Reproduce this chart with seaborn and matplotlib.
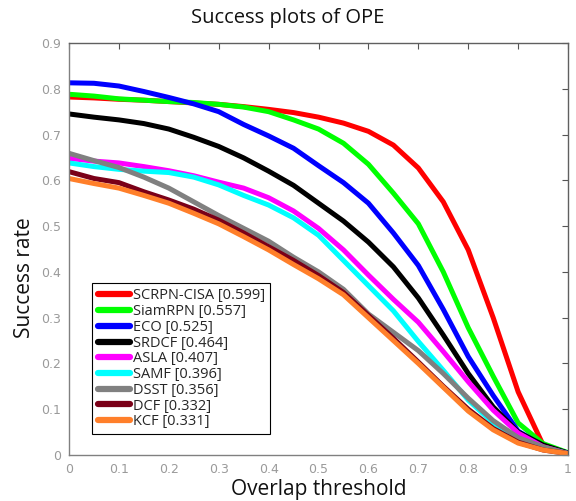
import numpy as np
import pandas as pd
import matplotlib
matplotlib.use("Agg")
import matplotlib.pyplot as plt
import seaborn as sns

# Overlap thresholds (21 points, 0 to 1)
thresholds = [round(0.05 * i, 2) for i in range(21)]

trackers = ["SCRPN-CISA", "SiamRPN", "ECO", "SRDCF", "ASLA", "SAMF", "DSST", "DCF", "KCF"]
auc_scores = [0.599, 0.557, 0.525, 0.464, 0.407, 0.396, 0.356, 0.332, 0.331]
colors = ["#ff0000", "#00ff00", "#0000ff", "#000000", "#ff00ff", "#00ffff",
          "#808080", "#7a0018", "#ff7f2a"]

scrpn_cisa = [0.782, 0.780, 0.777, 0.775, 0.772, 0.769, 0.766, 0.761, 0.755, 0.748, 0.738,
              0.725, 0.707, 0.677, 0.627, 0.553, 0.448, 0.300, 0.138, 0.022, 0.004]
siamrpn = [0.788, 0.784, 0.778, 0.775, 0.772, 0.770, 0.766, 0.760, 0.750, 0.732, 0.712,
           0.681, 0.635, 0.572, 0.505, 0.400, 0.278, 0.172, 0.070, 0.025, 0.005]
eco = [0.813, 0.812, 0.806, 0.794, 0.781, 0.767, 0.750, 0.722, 0.697, 0.670, 0.632,
       0.595, 0.550, 0.485, 0.414, 0.318, 0.215, 0.130, 0.052, 0.020, 0.004]
srdcf = [0.745, 0.738, 0.732, 0.724, 0.712, 0.694, 0.674, 0.649, 0.620, 0.589, 0.550,
         0.511, 0.465, 0.411, 0.343, 0.262, 0.178, 0.105, 0.050, 0.022, 0.004]
asla = [0.648, 0.642, 0.638, 0.630, 0.621, 0.610, 0.596, 0.583, 0.562, 0.533, 0.495,
        0.448, 0.393, 0.340, 0.290, 0.226, 0.160, 0.098, 0.048, 0.018, 0.003]
samf = [0.638, 0.630, 0.624, 0.620, 0.617, 0.607, 0.590, 0.567, 0.546, 0.518, 0.480,
        0.425, 0.370, 0.315, 0.248, 0.185, 0.120, 0.070, 0.036, 0.015, 0.003]
dsst = [0.659, 0.643, 0.628, 0.607, 0.583, 0.553, 0.523, 0.495, 0.467, 0.432, 0.400,
        0.362, 0.308, 0.268, 0.228, 0.178, 0.124, 0.075, 0.038, 0.018, 0.003]
dcf = [0.619, 0.604, 0.595, 0.575, 0.557, 0.537, 0.513, 0.485, 0.455, 0.425, 0.392,
       0.355, 0.305, 0.255, 0.203, 0.150, 0.100, 0.058, 0.028, 0.011, 0.003]
kcf = [0.604, 0.593, 0.583, 0.567, 0.550, 0.528, 0.505, 0.477, 0.448, 0.416, 0.385,
       0.350, 0.300, 0.250, 0.200, 0.148, 0.096, 0.055, 0.026, 0.011, 0.003]

curves = [scrpn_cisa, siamrpn, eco, srdcf, asla, samf, dsst, dcf, kcf]
labels = [f"{name} [{score:.3f}]" for name, score in zip(trackers, auc_scores)]

df = pd.DataFrame({
    "threshold": np.tile(thresholds, len(trackers)),
    "success": np.concatenate(curves),
    "tracker": np.repeat(labels, len(thresholds)),
})

sns.set_theme(style="white")
plt.rcParams["font.family"] = ["Open Sans", "DejaVu Sans"]

fig = plt.figure(figsize=(5.76, 5.01), dpi=100)
ax = fig.add_axes([0.1198, 0.0918, 0.8664, 0.8224])

sns.lineplot(data=df, x="threshold", y="success", hue="tracker",
             hue_order=labels, palette=colors, linewidth=3.6, ax=ax)

ax.set_xlim(0, 1)
ax.set_ylim(0, 0.9)
ax.set_xticks(np.arange(0, 1.01, 0.1))
ax.set_xticklabels(["0", "0.1", "0.2", "0.3", "0.4", "0.5", "0.6", "0.7", "0.8", "0.9", "1"])
ax.set_yticks(np.arange(0, 0.91, 0.1))
ax.set_yticklabels(["0", "0.1", "0.2", "0.3", "0.4", "0.5", "0.6", "0.7", "0.8", "0.9"])
ax.tick_params(direction="in", length=4, width=0.8, color="#555555",
               labelcolor="#9a9a9a", labelsize=9, top=True, right=True,
               labeltop=False, labelright=False, pad=6)
for lab in ax.get_xticklabels() + ax.get_yticklabels():
    lab.set_family("DejaVu Sans")
for side in ["left", "bottom", "top", "right"]:
    ax.spines[side].set_visible(True)
    ax.spines[side].set_linewidth(1.0)
ax.spines["left"].set_color("#808080")
ax.spines["bottom"].set_color("#808080")
ax.spines["top"].set_color("#606060")
ax.spines["right"].set_color("#606060")

fig.suptitle("Success plots of OPE", x=0.5, y=0.964, va="center",
             fontsize=14.5, color="#111111")
ax.set_xlabel("Overlap threshold", fontsize=15, labelpad=2, color="#111111")
ax.set_ylabel("Success rate", fontsize=15, labelpad=8, color="#111111")
ax.yaxis.set_label_coords(-0.068, 0.43)

leg = ax.legend(loc="lower left", bbox_to_anchor=(0.047, 0.05), fontsize=10.5,
                frameon=True, fancybox=False, framealpha=1, edgecolor="#000000",
                handlelength=2.2, handletextpad=0.2, labelspacing=0.05,
                borderpad=0.35, borderaxespad=0)
leg.get_frame().set_linewidth(0.8)
for line in leg.get_lines():
    line.set_linewidth(4.5)

fig.savefig("out.png", dpi=100)
